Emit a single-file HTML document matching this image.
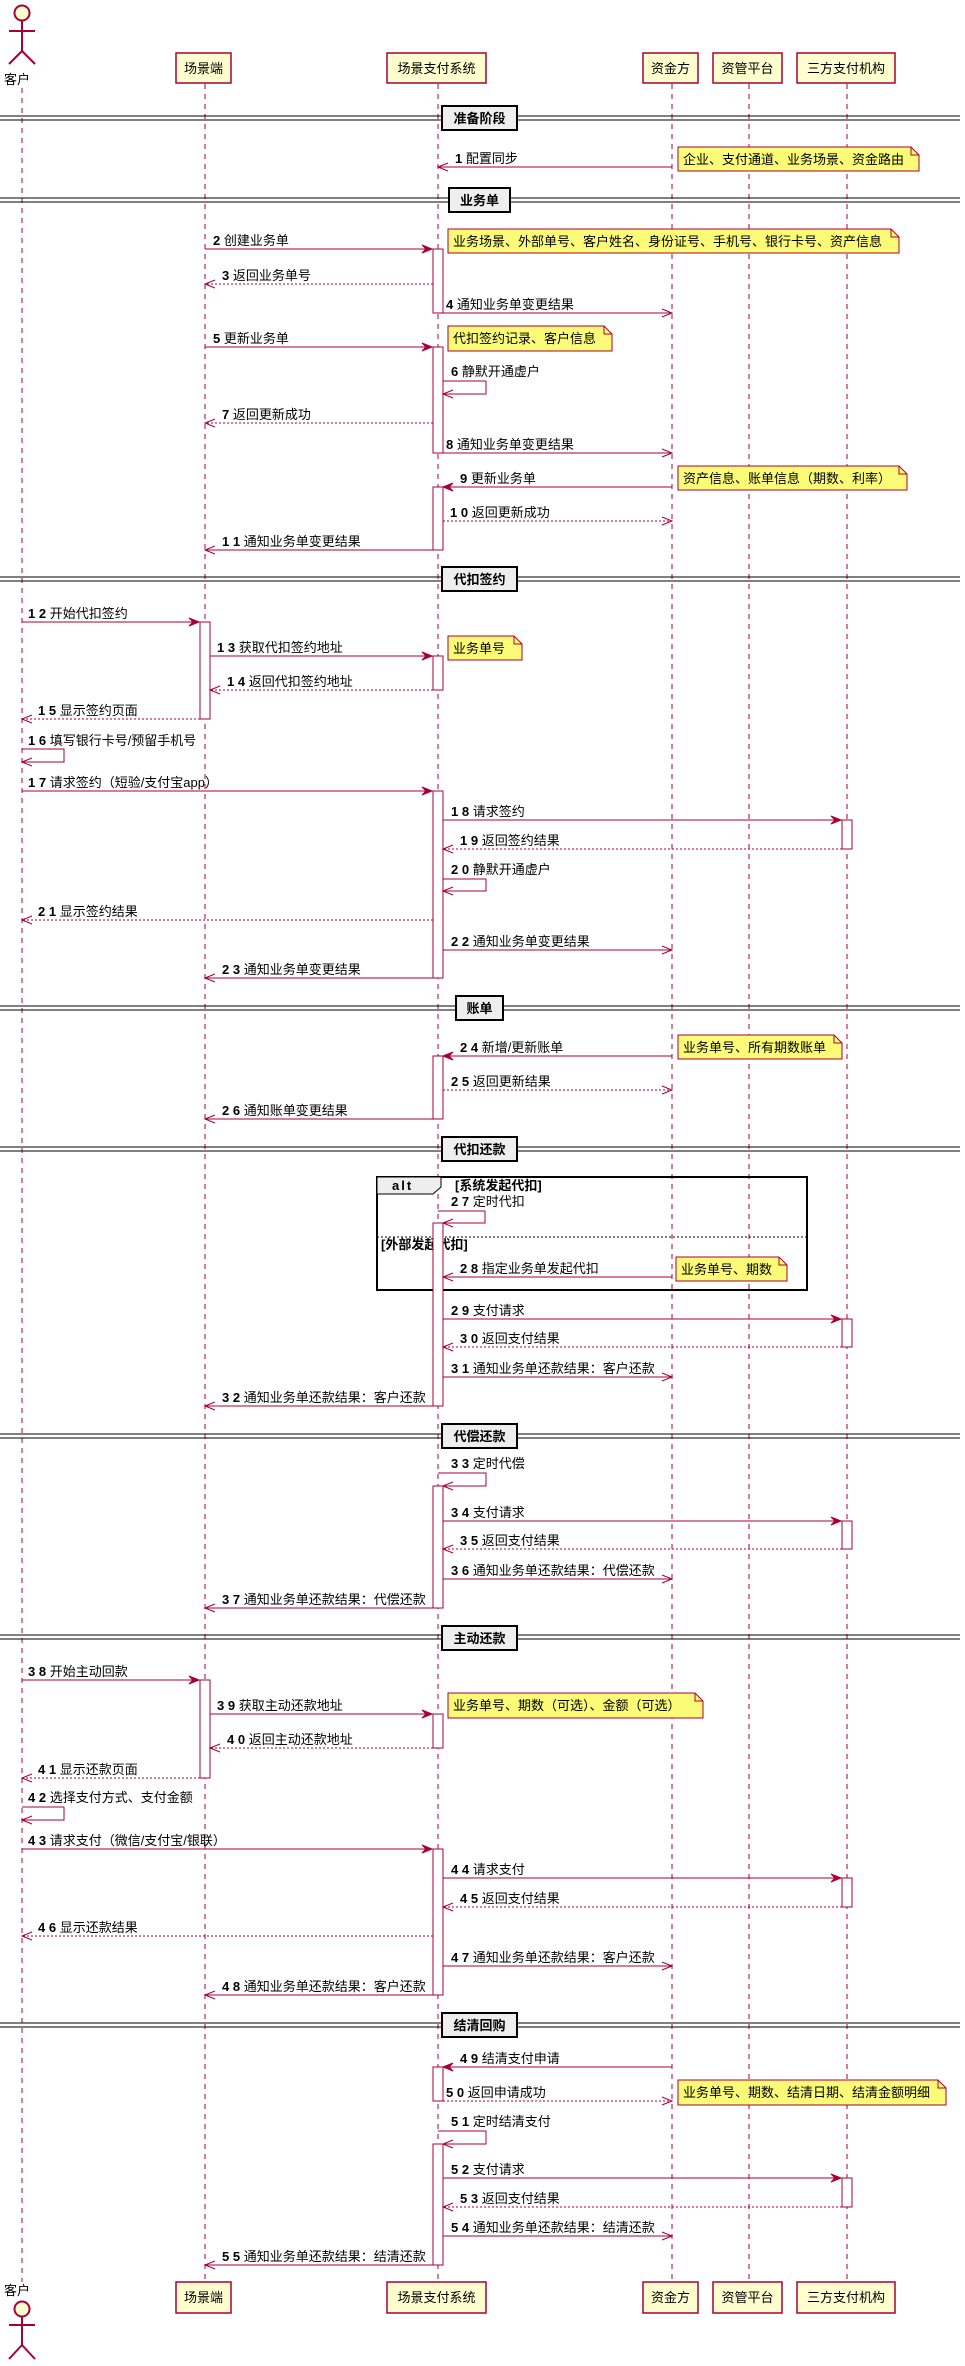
<!DOCTYPE html>
<html><head><meta charset="utf-8">
<style>
html,body{margin:0;padding:0;background:#fff;}
svg{display:block;}
text{font-family:"Liberation Sans","Noto Sans CJK SC",sans-serif;font-size:13px;fill:#000;}
.ll{stroke:#A80036;stroke-width:1;stroke-dasharray:5,5;}
.m{stroke:#A80036;stroke-width:1;fill:none;}
.d{stroke:#A80036;stroke-width:1;fill:none;stroke-dasharray:2,2;}
.act{fill:#fff;stroke:#A80036;stroke-width:1;}
.hb{fill:#FEFECE;stroke:#A80036;stroke-width:1.5;}
.note{fill:#FBFB77;stroke:#A80036;stroke-width:1;}
.div{fill:#EEEEEE;stroke:#000;stroke-width:2;}
.b{font-weight:bold;}
.ah{fill:#A80036;stroke:#A80036;}
</style></head><body>
<svg width="965" height="2366" viewBox="0 0 965 2366" xmlns="http://www.w3.org/2000/svg">
<line class="ll" x1="22" y1="88" x2="22" y2="2282"/>
<line class="ll" x1="205" y1="84" x2="205" y2="2282"/>
<line class="ll" x1="438" y1="84" x2="438" y2="2282"/>
<line class="ll" x1="672" y1="84" x2="672" y2="2282"/>
<line class="ll" x1="749" y1="84" x2="749" y2="2282"/>
<line class="ll" x1="847" y1="84" x2="847" y2="2282"/>

<g stroke="#A80036" stroke-width="2" fill="none">
<circle cx="22" cy="13" r="7.5" fill="#FEFECE"/>
<line x1="22" y1="21" x2="22" y2="51"/><line x1="9" y1="31" x2="35" y2="31"/>
<line x1="22" y1="51" x2="9" y2="64"/><line x1="22" y1="51" x2="35" y2="64"/>
</g>
<text x="4" y="84" font-size="13">客户</text>
<g>
<rect class="hb" x="176" y="53" width="55" height="30"/><text x="203.5" y="73" text-anchor="middle" font-size="13">场景端</text>
<rect class="hb" x="387" y="53" width="99" height="30"/><text x="436.5" y="73" text-anchor="middle" font-size="13">场景支付系统</text>
<rect class="hb" x="643" y="53" width="55" height="30"/><text x="670.5" y="73" text-anchor="middle" font-size="13">资金方</text>
<rect class="hb" x="713" y="53" width="69" height="30"/><text x="747.5" y="73" text-anchor="middle" font-size="13">资管平台</text>
<rect class="hb" x="797" y="53" width="98" height="30"/><text x="846" y="73" text-anchor="middle" font-size="13">三方支付机构</text>
</g>
<g>
<rect class="hb" x="176" y="2282" width="55" height="31"/><text x="203.5" y="2302" text-anchor="middle" font-size="13">场景端</text>
<rect class="hb" x="387" y="2282" width="99" height="31"/><text x="436.5" y="2302" text-anchor="middle" font-size="13">场景支付系统</text>
<rect class="hb" x="643" y="2282" width="55" height="31"/><text x="670.5" y="2302" text-anchor="middle" font-size="13">资金方</text>
<rect class="hb" x="713" y="2282" width="69" height="31"/><text x="747.5" y="2302" text-anchor="middle" font-size="13">资管平台</text>
<rect class="hb" x="797" y="2282" width="98" height="31"/><text x="846" y="2302" text-anchor="middle" font-size="13">三方支付机构</text>
</g>
<text x="4" y="2295" font-size="13">客户</text>
<g stroke="#A80036" stroke-width="2" fill="none">
<circle cx="22" cy="2309" r="7.5" fill="#FEFECE"/>
<line x1="22" y1="2317" x2="22" y2="2345"/><line x1="9" y1="2325" x2="35" y2="2325"/>
<line x1="22" y1="2345" x2="9" y2="2359"/><line x1="22" y1="2345" x2="35" y2="2359"/>
</g>

<g>
<line x1="0" y1="116" x2="960" y2="116" stroke="#000"/><line x1="0" y1="120" x2="960" y2="120" stroke="#000"/>
<rect class="div" x="442" y="106" width="75" height="24"/><text class="b" x="479.5" y="123" text-anchor="middle">准备阶段</text>
<line x1="0" y1="198" x2="960" y2="198" stroke="#000"/><line x1="0" y1="202" x2="960" y2="202" stroke="#000"/>
<rect class="div" x="449" y="188" width="61" height="24"/><text class="b" x="479.5" y="205" text-anchor="middle">业务单</text>
<line x1="0" y1="577" x2="960" y2="577" stroke="#000"/><line x1="0" y1="581" x2="960" y2="581" stroke="#000"/>
<rect class="div" x="442" y="567" width="75" height="24"/><text class="b" x="479.5" y="584" text-anchor="middle">代扣签约</text>
<line x1="0" y1="1006" x2="960" y2="1006" stroke="#000"/><line x1="0" y1="1010" x2="960" y2="1010" stroke="#000"/>
<rect class="div" x="456" y="996" width="47" height="24"/><text class="b" x="479.5" y="1013" text-anchor="middle">账单</text>
<line x1="0" y1="1147" x2="960" y2="1147" stroke="#000"/><line x1="0" y1="1151" x2="960" y2="1151" stroke="#000"/>
<rect class="div" x="442" y="1137" width="75" height="24"/><text class="b" x="479.5" y="1154" text-anchor="middle">代扣还款</text>
<line x1="0" y1="1434" x2="960" y2="1434" stroke="#000"/><line x1="0" y1="1438" x2="960" y2="1438" stroke="#000"/>
<rect class="div" x="442" y="1424" width="75" height="24"/><text class="b" x="479.5" y="1441" text-anchor="middle">代偿还款</text>
<line x1="0" y1="1635" x2="960" y2="1635" stroke="#000"/><line x1="0" y1="1639" x2="960" y2="1639" stroke="#000"/>
<rect class="div" x="442" y="1626" width="75" height="24"/><text class="b" x="479.5" y="1643" text-anchor="middle">主动还款</text>
<line x1="0" y1="2023" x2="960" y2="2023" stroke="#000"/><line x1="0" y1="2027" x2="960" y2="2027" stroke="#000"/>
<rect class="div" x="442" y="2013" width="75" height="24"/><text class="b" x="479.5" y="2030" text-anchor="middle">结清回购</text>
</g>

<rect x="377" y="1177" width="430" height="113" fill="none" stroke="#000" stroke-width="2"/>
<path d="M377 1177 H441 V1187 L433 1194 H377 Z" fill="#EEEEEE" stroke="#000" stroke-width="1"/>
<text class="b" x="392" y="1190" font-size="11" letter-spacing="2">alt</text>
<text class="b" x="455" y="1190" font-size="11">[系统发起代扣]</text>
<line x1="377" y1="1237" x2="807" y2="1237" stroke="#000" stroke-dasharray="2,2"/>
<text class="b" x="381" y="1249" font-size="11">[外部发起代扣]</text>

<g class="act">
<rect x="433" y="249" width="10" height="64"/>
<rect x="433" y="347" width="10" height="106"/>
<rect x="433" y="487" width="10" height="63"/>
<rect x="200" y="622" width="10" height="97"/>
<rect x="433" y="656" width="10" height="34"/>
<rect x="433" y="791" width="10" height="187"/>
<rect x="842" y="820" width="10" height="29"/>
<rect x="433" y="1056" width="10" height="63"/>
<rect x="433" y="1223" width="10" height="183"/>
<rect x="842" y="1319" width="10" height="28"/>
<rect x="433" y="1486" width="10" height="122"/>
<rect x="842" y="1521" width="10" height="28"/>
<rect x="200" y="1680" width="10" height="98"/>
<rect x="433" y="1714" width="10" height="34"/>
<rect x="433" y="1849" width="10" height="146"/>
<rect x="842" y="1878" width="10" height="29"/>
<rect x="433" y="2067" width="10" height="34"/>
<rect x="433" y="2144" width="10" height="121"/>
<rect x="842" y="2178" width="10" height="29"/>
</g>

<g>
<path class="note" d="M678 147 H911 L919 155 V171 H678 Z"/><path class="m" d="M911 147 V155 H919"/>
<text x="683" y="164">企业、支付通道、业务场景、资金路由</text>
<path class="note" d="M448 229 H891 L899 237 V253 H448 Z"/><path class="m" d="M891 229 V237 H899"/>
<text x="453" y="246">业务场景、外部单号、客户姓名、身份证号、手机号、银行卡号、资产信息</text>
<path class="note" d="M448 326 H604 L612 334 V351 H448 Z"/><path class="m" d="M604 326 V334 H612"/>
<text x="453" y="343">代扣签约记录、客户信息</text>
<path class="note" d="M678 466 H899 L907 474 V490 H678 Z"/><path class="m" d="M899 466 V474 H907"/>
<text x="683" y="483">资产信息、账单信息（期数、利率）</text>
<path class="note" d="M448 636 H514 L522 644 V660 H448 Z"/><path class="m" d="M514 636 V644 H522"/>
<text x="453" y="653">业务单号</text>
<path class="note" d="M678 1035 H834 L842 1043 V1059 H678 Z"/><path class="m" d="M834 1035 V1043 H842"/>
<text x="683" y="1052">业务单号、所有期数账单</text>
<path class="note" d="M676 1257 H779 L787 1265 V1281 H676 Z"/><path class="m" d="M779 1257 V1265 H787"/>
<text x="681" y="1274">业务单号、期数</text>
<path class="note" d="M448 1693 H695 L703 1701 V1718 H448 Z"/><path class="m" d="M695 1693 V1701 H703"/>
<text x="453" y="1710">业务单号、期数（可选）、金额（可选）</text>
<path class="note" d="M678 2080 H938 L946 2088 V2105 H678 Z"/><path class="m" d="M938 2080 V2088 H946"/>
<text x="683" y="2097">业务单号、期数、结清日期、结清金额明细</text>
</g>

<g>
<line class="m" x1="672" y1="167" x2="438" y2="167"/><polyline class="m" points="448,163 438,167 448,171"/>
<text x="455" y="163"><tspan class="b">1</tspan> 配置同步</text>
<line class="m" x1="205" y1="249" x2="432" y2="249"/><polygon class="ah" points="432,249 422,245 426,249 422,253"/>
<text x="213" y="245"><tspan class="b">2</tspan> 创建业务单</text>
<line class="d" x1="433" y1="284" x2="205" y2="284"/><polyline class="m" points="215,280 205,284 215,288"/>
<text x="222" y="280"><tspan class="b">3</tspan> 返回业务单号</text>
<line class="m" x1="443" y1="313" x2="672" y2="313"/><polyline class="m" points="662,309 672,313 662,317"/>
<text x="446" y="309"><tspan class="b">4</tspan> 通知业务单变更结果</text>
<line class="m" x1="205" y1="347" x2="432" y2="347"/><polygon class="ah" points="432,347 422,343 426,347 422,351"/>
<text x="213" y="343"><tspan class="b">5</tspan> 更新业务单</text>
<polyline class="m" points="443,381 486,381 486,394 443,394"/><polyline class="m" points="453,390 443,394 453,398"/>
<text x="451" y="376"><tspan class="b">6</tspan> 静默开通虚户</text>
<line class="d" x1="433" y1="423" x2="205" y2="423"/><polyline class="m" points="215,419 205,423 215,427"/>
<text x="222" y="419"><tspan class="b">7</tspan> 返回更新成功</text>
<line class="m" x1="443" y1="453" x2="672" y2="453"/><polyline class="m" points="662,449 672,453 662,457"/>
<text x="446" y="449"><tspan class="b">8</tspan> 通知业务单变更结果</text>
<line class="m" x1="672" y1="487" x2="443" y2="487"/><polygon class="ah" points="443,487 453,483 449,487 453,491"/>
<text x="460" y="483"><tspan class="b">9</tspan> 更新业务单</text>
<line class="d" x1="443" y1="521" x2="672" y2="521"/><polyline class="m" points="662,517 672,521 662,525"/>
<text x="450" y="517"><tspan class="b">1 0</tspan> 返回更新成功</text>
<line class="m" x1="433" y1="550" x2="205" y2="550"/><polyline class="m" points="215,546 205,550 215,554"/>
<text x="222" y="546"><tspan class="b">1 1</tspan> 通知业务单变更结果</text>
<line class="m" x1="22" y1="622" x2="199" y2="622"/><polygon class="ah" points="199,622 189,618 193,622 189,626"/>
<text x="28" y="618"><tspan class="b">1 2</tspan> 开始代扣签约</text>
<line class="m" x1="210" y1="656" x2="432" y2="656"/><polygon class="ah" points="432,656 422,652 426,656 422,660"/>
<text x="217" y="652"><tspan class="b">1 3</tspan> 获取代扣签约地址</text>
<line class="d" x1="433" y1="690" x2="210" y2="690"/><polyline class="m" points="220,686 210,690 220,694"/>
<text x="227" y="686"><tspan class="b">1 4</tspan> 返回代扣签约地址</text>
<line class="d" x1="200" y1="719" x2="22" y2="719"/><polyline class="m" points="32,715 22,719 32,723"/>
<text x="38" y="715"><tspan class="b">1 5</tspan> 显示签约页面</text>
<polyline class="m" points="22,749 64,749 64,762 22,762"/><polyline class="m" points="32,758 22,762 32,766"/>
<text x="28" y="745"><tspan class="b">1 6</tspan> 填写银行卡号/预留手机号</text>
<line class="m" x1="22" y1="791" x2="432" y2="791"/><polygon class="ah" points="432,791 422,787 426,791 422,795"/>
<text x="28" y="787"><tspan class="b">1 7</tspan> 请求签约（短验/支付宝app）</text>
<line class="m" x1="443" y1="820" x2="841" y2="820"/><polygon class="ah" points="841,820 831,816 835,820 831,824"/>
<text x="451" y="816"><tspan class="b">1 8</tspan> 请求签约</text>
<line class="d" x1="842" y1="849" x2="443" y2="849"/><polyline class="m" points="453,845 443,849 453,853"/>
<text x="460" y="845"><tspan class="b">1 9</tspan> 返回签约结果</text>
<polyline class="m" points="443,879 486,879 486,891 443,891"/><polyline class="m" points="453,887 443,891 453,895"/>
<text x="451" y="874"><tspan class="b">2 0</tspan> 静默开通虚户</text>
<line class="d" x1="433" y1="920" x2="22" y2="920"/><polyline class="m" points="32,916 22,920 32,924"/>
<text x="38" y="916"><tspan class="b">2 1</tspan> 显示签约结果</text>
<line class="m" x1="443" y1="950" x2="672" y2="950"/><polyline class="m" points="662,946 672,950 662,954"/>
<text x="451" y="946"><tspan class="b">2 2</tspan> 通知业务单变更结果</text>
<line class="m" x1="433" y1="978" x2="205" y2="978"/><polyline class="m" points="215,974 205,978 215,982"/>
<text x="222" y="974"><tspan class="b">2 3</tspan> 通知业务单变更结果</text>
<line class="m" x1="672" y1="1056" x2="443" y2="1056"/><polygon class="ah" points="443,1056 453,1052 449,1056 453,1060"/>
<text x="460" y="1052"><tspan class="b">2 4</tspan> 新增/更新账单</text>
<line class="d" x1="443" y1="1090" x2="672" y2="1090"/><polyline class="m" points="662,1086 672,1090 662,1094"/>
<text x="451" y="1086"><tspan class="b">2 5</tspan> 返回更新结果</text>
<line class="m" x1="433" y1="1119" x2="205" y2="1119"/><polyline class="m" points="215,1115 205,1119 215,1123"/>
<text x="222" y="1115"><tspan class="b">2 6</tspan> 通知账单变更结果</text>
<polyline class="m" points="438,1211 485,1211 485,1223 443,1223"/><polyline class="m" points="453,1219 443,1223 453,1227"/>
<text x="451" y="1206"><tspan class="b">2 7</tspan> 定时代扣</text>
<line class="m" x1="672" y1="1277" x2="443" y2="1277"/><polyline class="m" points="453,1273 443,1277 453,1281"/>
<text x="460" y="1273"><tspan class="b">2 8</tspan> 指定业务单发起代扣</text>
<line class="m" x1="443" y1="1319" x2="841" y2="1319"/><polygon class="ah" points="841,1319 831,1315 835,1319 831,1323"/>
<text x="451" y="1315"><tspan class="b">2 9</tspan> 支付请求</text>
<line class="d" x1="842" y1="1347" x2="443" y2="1347"/><polyline class="m" points="453,1343 443,1347 453,1351"/>
<text x="460" y="1343"><tspan class="b">3 0</tspan> 返回支付结果</text>
<line class="m" x1="443" y1="1377" x2="672" y2="1377"/><polyline class="m" points="662,1373 672,1377 662,1381"/>
<text x="451" y="1373"><tspan class="b">3 1</tspan> 通知业务单还款结果：客户还款</text>
<line class="m" x1="433" y1="1406" x2="205" y2="1406"/><polyline class="m" points="215,1402 205,1406 215,1410"/>
<text x="222" y="1402"><tspan class="b">3 2</tspan> 通知业务单还款结果：客户还款</text>
<polyline class="m" points="438,1473 486,1473 486,1486 443,1486"/><polyline class="m" points="453,1482 443,1486 453,1490"/>
<text x="451" y="1468"><tspan class="b">3 3</tspan> 定时代偿</text>
<line class="m" x1="443" y1="1521" x2="841" y2="1521"/><polygon class="ah" points="841,1521 831,1517 835,1521 831,1525"/>
<text x="451" y="1517"><tspan class="b">3 4</tspan> 支付请求</text>
<line class="d" x1="842" y1="1549" x2="443" y2="1549"/><polyline class="m" points="453,1545 443,1549 453,1553"/>
<text x="460" y="1545"><tspan class="b">3 5</tspan> 返回支付结果</text>
<line class="m" x1="443" y1="1579" x2="672" y2="1579"/><polyline class="m" points="662,1575 672,1579 662,1583"/>
<text x="451" y="1575"><tspan class="b">3 6</tspan> 通知业务单还款结果：代偿还款</text>
<line class="m" x1="433" y1="1608" x2="205" y2="1608"/><polyline class="m" points="215,1604 205,1608 215,1612"/>
<text x="222" y="1604"><tspan class="b">3 7</tspan> 通知业务单还款结果：代偿还款</text>
<line class="m" x1="22" y1="1680" x2="199" y2="1680"/><polygon class="ah" points="199,1680 189,1676 193,1680 189,1684"/>
<text x="28" y="1676"><tspan class="b">3 8</tspan> 开始主动回款</text>
<line class="m" x1="210" y1="1714" x2="432" y2="1714"/><polygon class="ah" points="432,1714 422,1710 426,1714 422,1718"/>
<text x="217" y="1710"><tspan class="b">3 9</tspan> 获取主动还款地址</text>
<line class="d" x1="433" y1="1748" x2="210" y2="1748"/><polyline class="m" points="220,1744 210,1748 220,1752"/>
<text x="227" y="1744"><tspan class="b">4 0</tspan> 返回主动还款地址</text>
<line class="d" x1="200" y1="1778" x2="22" y2="1778"/><polyline class="m" points="32,1774 22,1778 32,1782"/>
<text x="38" y="1774"><tspan class="b">4 1</tspan> 显示还款页面</text>
<polyline class="m" points="22,1807 64,1807 64,1820 22,1820"/><polyline class="m" points="32,1816 22,1820 32,1824"/>
<text x="28" y="1802"><tspan class="b">4 2</tspan> 选择支付方式、支付金额</text>
<line class="m" x1="22" y1="1849" x2="432" y2="1849"/><polygon class="ah" points="432,1849 422,1845 426,1849 422,1853"/>
<text x="28" y="1845"><tspan class="b">4 3</tspan> 请求支付（微信/支付宝/银联）</text>
<line class="m" x1="443" y1="1878" x2="841" y2="1878"/><polygon class="ah" points="841,1878 831,1874 835,1878 831,1882"/>
<text x="451" y="1874"><tspan class="b">4 4</tspan> 请求支付</text>
<line class="d" x1="842" y1="1907" x2="443" y2="1907"/><polyline class="m" points="453,1903 443,1907 453,1911"/>
<text x="460" y="1903"><tspan class="b">4 5</tspan> 返回支付结果</text>
<line class="d" x1="433" y1="1936" x2="22" y2="1936"/><polyline class="m" points="32,1932 22,1936 32,1940"/>
<text x="38" y="1932"><tspan class="b">4 6</tspan> 显示还款结果</text>
<line class="m" x1="443" y1="1966" x2="672" y2="1966"/><polyline class="m" points="662,1962 672,1966 662,1970"/>
<text x="451" y="1962"><tspan class="b">4 7</tspan> 通知业务单还款结果：客户还款</text>
<line class="m" x1="433" y1="1995" x2="205" y2="1995"/><polyline class="m" points="215,1991 205,1995 215,1999"/>
<text x="222" y="1991"><tspan class="b">4 8</tspan> 通知业务单还款结果：客户还款</text>
<line class="m" x1="672" y1="2067" x2="443" y2="2067"/><polygon class="ah" points="443,2067 453,2063 449,2067 453,2071"/>
<text x="460" y="2063"><tspan class="b">4 9</tspan> 结清支付申请</text>
<line class="d" x1="443" y1="2101" x2="672" y2="2101"/><polyline class="m" points="662,2097 672,2101 662,2105"/>
<text x="446" y="2097"><tspan class="b">5 0</tspan> 返回申请成功</text>
<polyline class="m" points="438,2131 486,2131 486,2144 443,2144"/><polyline class="m" points="453,2140 443,2144 453,2148"/>
<text x="451" y="2126"><tspan class="b">5 1</tspan> 定时结清支付</text>
<line class="m" x1="443" y1="2178" x2="841" y2="2178"/><polygon class="ah" points="841,2178 831,2174 835,2178 831,2182"/>
<text x="451" y="2174"><tspan class="b">5 2</tspan> 支付请求</text>
<line class="d" x1="842" y1="2207" x2="443" y2="2207"/><polyline class="m" points="453,2203 443,2207 453,2211"/>
<text x="460" y="2203"><tspan class="b">5 3</tspan> 返回支付结果</text>
<line class="m" x1="443" y1="2236" x2="672" y2="2236"/><polyline class="m" points="662,2232 672,2236 662,2240"/>
<text x="451" y="2232"><tspan class="b">5 4</tspan> 通知业务单还款结果：结清还款</text>
<line class="m" x1="433" y1="2265" x2="205" y2="2265"/><polyline class="m" points="215,2261 205,2265 215,2269"/>
<text x="222" y="2261"><tspan class="b">5 5</tspan> 通知业务单还款结果：结清还款</text>
</g>
</svg>
</body></html>
